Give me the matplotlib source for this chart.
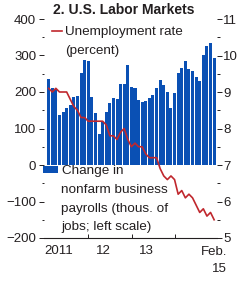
import numpy as np
import matplotlib
matplotlib.use('Agg')
import matplotlib.pyplot as plt
from matplotlib.ticker import MultipleLocator

plt.rcParams['font.family'] = ['Liberation Sans', 'DejaVu Sans']

# Apr 2011 .. Feb 2015, monthly
months = [f'{m} {y}' for y in range(2011, 2016)
          for m in ['Jan', 'Feb', 'Mar', 'Apr', 'May', 'Jun',
                    'Jul', 'Aug', 'Sep', 'Oct', 'Nov', 'Dec']][3:50]

# nonfarm payrolls, thousands (3-month average)
payrolls = [236, 210, 207, 137, 145, 156, 164, 186, 189, 252, 288, 285,
            186, 142, 85, 118, 146, 170, 184, 180, 222, 222, 274, 214,
            211, 178, 172, 175, 184, 192, 211, 233, 219, 201, 157, 197,
            252, 267, 285, 263, 258, 242, 231, 301, 327, 333, 293]

# unemployment rate, percent
unemployment = [9.1, 9.0, 9.1, 9.0, 9.0, 9.0, 8.8, 8.6, 8.5, 8.3, 8.3, 8.2,
                8.2, 8.2, 8.2, 8.2, 8.1, 7.8, 7.8, 7.7, 7.9, 8.0, 7.7, 7.5,
                7.6, 7.5, 7.5, 7.3, 7.2, 7.2, 7.2, 6.9, 6.7, 6.6, 6.7, 6.6,
                6.2, 6.3, 6.1, 6.2, 6.1, 5.9, 5.7, 5.8, 5.6, 5.7, 5.5]

year_labels = ['2011', '12', '13']
year_label_pos = [2.86, 15.3, 27.2]
year_ticks = [11.0, 23.2, 35.1]

blue = '#0a50b4'
red = '#c0272d'
ink = '#231f20'
tick_fs = 9.5
text_fs = 9.7

W, H = 243, 281
fig = plt.figure(figsize=(W / 100, H / 100), dpi=100)
ax = fig.add_axes([44 / W, 1 - 238 / H, (217 - 44) / W, (238 - 19) / H])

x = np.arange(len(payrolls))
bars = ax.bar(x, payrolls, width=0.84, color=blue, linewidth=0, zorder=2)
ax.set_ylim(-200, 400)
ax.set_xlim(-1.3, 46.8)
ax.yaxis.set_major_locator(MultipleLocator(100))
ax.yaxis.set_minor_locator(MultipleLocator(50))
ax.tick_params(axis='y', which='major', direction='out', length=3.6, width=0.7,
               pad=2, labelsize=tick_fs, colors=ink)
ax.tick_params(axis='y', which='minor', direction='out', length=1.8, width=0.7, colors=ink)
ax.set_xticks(year_ticks)
ax.set_xticklabels([])
ax.set_xticks(year_label_pos, minor=True)
ax.set_xticklabels(year_labels, minor=True)
ax.tick_params(axis='x', which='major', direction='in', length=3, width=0.7, color=ink)
ax.tick_params(axis='x', which='minor', length=0, pad=5, labelsize=tick_fs, labelcolor=ink)
for s in ['top', 'left', 'right']:
    ax.spines[s].set_visible(False)
ax.spines['bottom'].set_color(ink)
ax.spines['bottom'].set_linewidth(0.8)

ax2 = ax.twinx()
line, = ax2.plot(x, unemployment, color=red, lw=1.2)
ax2.set_ylim(5, 11)
ax2.yaxis.set_major_locator(MultipleLocator(1))
ax2.yaxis.set_minor_locator(MultipleLocator(0.5))
ax2.tick_params(axis='y', which='major', direction='out', length=3.6, width=0.7,
                pad=1, labelsize=tick_fs, colors=ink)
ax2.tick_params(axis='y', which='minor', direction='out', length=1.8, width=0.7, colors=ink)
for s in ['top', 'left', 'right', 'bottom']:
    ax2.spines[s].set_visible(False)

ax.text(49.6, -0.035, 'Feb.\n15', transform=ax.get_xaxis_transform(), ha='right',
        va='top', fontsize=tick_fs, color=ink, clip_on=False, linespacing=1.55)

fig.text(53 / W, 1 - 10 / H, '2. U.S. Labor Markets', fontsize=10, fontweight='bold',
         color=ink, va='center', ha='left')

leg1 = ax2.legend([line], ['Unemployment rate'], loc='upper left',
                  bbox_to_anchor=(52 / W, 1 - 26 / H), bbox_transform=fig.transFigure,
                  frameon=False, borderpad=0, borderaxespad=0, handlelength=0.75,
                  handletextpad=0.22, fontsize=text_fs, labelcolor=ink)
ax2.add_artist(leg1)
fig.text(65 / W, 1 - 51 / H, '(percent)', fontsize=text_fs, color=ink, va='center')

leg2 = ax2.legend([bars], ['Change in'], loc='upper left',
                  bbox_to_anchor=(43 / W, 1 - 165 / H), bbox_transform=fig.transFigure,
                  frameon=False, borderpad=0, borderaxespad=0, handlelength=1.15,
                  handleheight=0.45, handletextpad=0.28, fontsize=text_fs, labelcolor=ink)
for txt, yp in [('nonfarm business', 190), ('payrolls (thous. of', 209),
                ('jobs; left scale)', 227)]:
    fig.text(61 / W, 1 - yp / H, txt, fontsize=text_fs, color=ink, va='center')

fig.savefig('out.png', dpi=100)
